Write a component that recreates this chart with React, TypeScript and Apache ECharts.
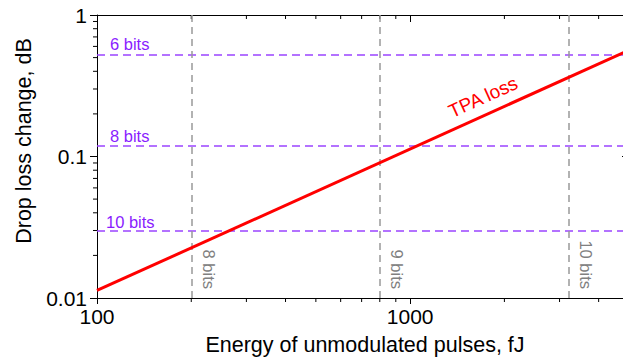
import React, { useEffect, useRef } from "react";
import * as echarts from "echarts";

// ---- data ----
const xRange = [100, 5000];
const yRange = [0.01, 1];
const tpaEnergy = [100, 5000];
const tpaLoss = [0.0113, 0.565];
const levelY = [0.52, 0.115, 0.0284];
const levelYLabels = ["6 bits", "8 bits", "10 bits"];
const levelX = [200, 800, 3200];
const levelXLabels = ["8 bits", "9 bits", "10 bits"];
const xMinor = [200, 300, 400, 500, 600, 700, 800, 900, 2000, 3000, 4000];
const yMinor = [0.02, 0.03, 0.04, 0.05, 0.06, 0.07, 0.08, 0.09, 0.2, 0.3, 0.4, 0.5, 0.6, 0.7, 0.8, 0.9];
const tpaLabelAt = [1710, 0.263];
const xName = "Energy of unmodulated pulses, fJ";
const yName = "Drop loss change, dB";

const FONT = '"Liberation Sans", Arial, Helvetica, sans-serif';
const PURPLE_LINE = "#9a44ff";
const PURPLE_TEXT = "#8a1cff";
const GRAY_LINE = "#999999";
const GRAY_TEXT = "#808080";

const decadeFmt = (v: number) => {
  const l = Math.log10(v);
  return Math.abs(l - Math.round(l)) < 1e-6 ? String(v) : "";
};

export default function App() {
  const ref = useRef<HTMLDivElement>(null);
  useEffect(() => {
    if (!ref.current) return;
    const chart = echarts.init(ref.current, null, { renderer: "svg" });
    const axisLine = { show: true, lineStyle: { color: "#000", width: 1 } };
    const option: any = {
      animation: false,
      backgroundColor: "#fff",
      textStyle: { fontFamily: FONT },
      grid: { left: 97, top: 15, width: 532, bottom: 62, containLabel: false, outerBoundsMode: "none" },
      xAxis: [
        {
          type: "log",
          min: xRange[0],
          max: xRange[1],
          position: "bottom",
          axisLine,
          axisTick: { show: true, inside: false, length: 6, lineStyle: { color: "#000" } },
          axisLabel: { show: true, color: "#000", fontSize: 21, margin: 8, fontFamily: FONT, formatter: decadeFmt },
          splitLine: { show: false },
        },
        {
          type: "log",
          min: xRange[0],
          max: xRange[1],
          position: "top",
          axisLine,
          axisTick: { show: true, inside: true, length: 7, lineStyle: { color: "#000" } },
          axisLabel: { show: false },
          splitLine: { show: false },
        },
      ],
      yAxis: [
        {
          type: "log",
          min: yRange[0],
          max: yRange[1],
          position: "left",
          axisLine,
          axisTick: { show: true, inside: false, length: 7, lineStyle: { color: "#000" } },
          axisLabel: { show: true, color: "#000", fontSize: 21, margin: 10, fontFamily: FONT, formatter: decadeFmt },
          splitLine: { show: false },
        },
        {
          type: "log",
          min: yRange[0],
          max: yRange[1],
          position: "right",
          axisLine,
          axisTick: { show: true, inside: true, length: 7, lineStyle: { color: "#000" } },
          axisLabel: { show: false },
          splitLine: { show: false },
        },
      ],
      series: [
        {
          type: "line",
          name: "TPA loss",
          data: tpaEnergy.map((x, i) => [x, tpaLoss[i]]),
          showSymbol: false,
          symbol: "none",
          lineStyle: { color: "#ff0000", width: 3 },
          z: 5,
          markLine: {
            silent: true,
            symbol: ["none", "none"],
            label: { show: false },
            data: [
              ...levelY.map((v) => ({
                yAxis: v,
                lineStyle: { color: PURPLE_LINE, type: [8, 5], width: 1.5 },
              })),
              ...levelX.map((v) => ({
                xAxis: v,
                lineStyle: { color: GRAY_LINE, type: [7, 5], width: 1.5 },
              })),
            ],
          },
        },
        {
          type: "custom",
          clip: false,
          silent: true,
          encode: { x: 0, y: 1 },
          data: [
            ...xMinor.map((v) => [v, 0.1, 0]),
            ...yMinor.map((v) => [1000, v, 1]),
          ],
          renderItem: (params: any, api: any) => {
            const kind = api.value(2);
            const v = api.value(0);
            const st = { stroke: "#000", lineWidth: 1 };
            if (kind === 0) {
              const b = api.coord([v, yRange[0]]);
              const t = api.coord([v, yRange[1]]);
              return {
                type: "group",
                children: [
                  { type: "line", shape: { x1: b[0], y1: b[1], x2: b[0], y2: b[1] + 4 }, style: st },
                  { type: "line", shape: { x1: t[0], y1: t[1], x2: t[0], y2: t[1] + 4 }, style: st },
                ],
              };
            }
            const yv = api.value(1);
            const l = api.coord([xRange[0], yv]);
            const r = api.coord([xRange[1], yv]);
            return {
              type: "group",
              children: [
                { type: "line", shape: { x1: l[0] - 4, y1: l[1], x2: l[0], y2: l[1] }, style: st },
                { type: "line", shape: { x1: r[0] - 4, y1: r[1], x2: r[0], y2: r[1] }, style: st },
              ],
            };
          },
        },
      ],
    };
    chart.setOption(option);

    const px = (p: number[]) => chart.convertToPixel({ gridIndex: 0 }, p) as number[];
    const graphics: any[] = [];
    levelY.forEach((v, i) => {
      const p = px([xRange[0], v]);
      graphics.push({
        type: "text",
        x: p[0] + (levelYLabels[i].startsWith("1") ? 9 : 13),
        y: p[1] - 3,
        style: { text: levelYLabels[i], fill: PURPLE_TEXT, fontSize: 16.5, fontFamily: FONT, align: "left", verticalAlign: "bottom" },
      });
    });
    levelX.forEach((v, i) => {
      const p = px([v, yRange[0]]);
      graphics.push({
        type: "text",
        x: p[0] + 9,
        y: p[1] - 9,
        rotation: -Math.PI / 2,
        style: { text: levelXLabels[i], fill: GRAY_TEXT, fontSize: 16.5, fontFamily: FONT, align: "right", verticalAlign: "bottom" },
      });
    });
    const a = px([tpaEnergy[0], tpaLoss[0]]);
    const b = px([tpaEnergy[1], tpaLoss[1]]);
    const ang = Math.atan2(-(b[1] - a[1]), b[0] - a[0]);
    const tp = px(tpaLabelAt);
    graphics.push({
      type: "text",
      x: tp[0],
      y: tp[1],
      rotation: ang,
      style: { text: "TPA loss", fill: "#ff0000", fontSize: 19, fontFamily: FONT, align: "center", verticalAlign: "middle" },
    });
    graphics.push({
      type: "text",
      x: 365,
      y: 345,
      style: { text: xName, fill: "#000", fontSize: 21.5, fontFamily: FONT, align: "center", verticalAlign: "middle" },
    });
    graphics.push({
      type: "text",
      x: 24,
      y: 141,
      rotation: Math.PI / 2,
      style: { text: yName, fill: "#000", fontSize: 21.5, fontFamily: FONT, align: "center", verticalAlign: "middle" },
    });
    chart.setOption({ graphic: graphics });

    return () => chart.dispose();
  }, []);
  return (
    <div
      ref={ref}
      style={{ position: "fixed", left: 0, top: 0, width: 623, height: 360, background: "#fff" }}
    />
  );
}
